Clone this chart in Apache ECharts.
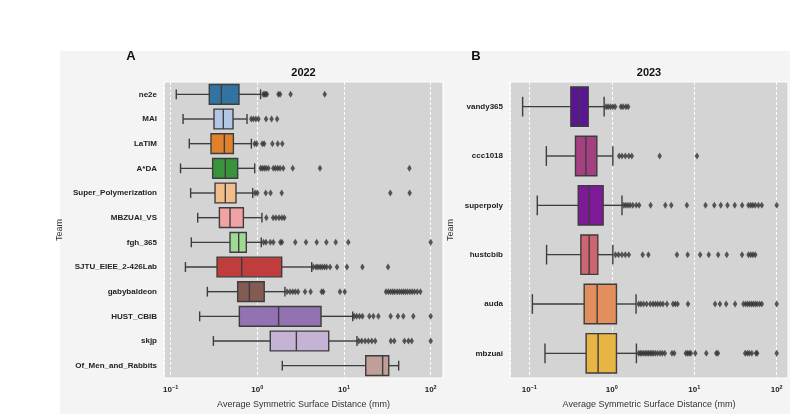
<!DOCTYPE html>
<html>
<head>
<meta charset="utf-8">
<script src="https://cdn.jsdelivr.net/npm/echarts@6/dist/echarts.min.js"></script>
<style>
  html, body { margin: 0; padding: 0; background: #fff; }
  #chart { width: 795px; height: 414px; }
</style>
</head>
<body>
<div id="chart"></div>
<script>
// 2022 teams: [min, q1, median, q3, max] of the whiskers/box
const teams2022 = ['ne2e', 'MAI', 'LaTIM', 'A*DA', 'Super_Polymerization', 'MBZUAI_VS',
  'fgh_365', 'SJTU_EIEE_2-426Lab', 'gabybaldeon', 'HUST_CBIB', 'skjp', 'Of_Men_and_Rabbits'];
const box2022 = [
  [0.116, 0.279, 0.384, 0.614, 1.09],
  [0.139, 0.316, 0.405, 0.524, 0.76],
  [0.164, 0.292, 0.416, 0.529, 0.853],
  [0.130, 0.305, 0.427, 0.593, 0.932],
  [0.170, 0.325, 0.427, 0.567, 0.884],
  [0.205, 0.365, 0.484, 0.690, 1.13],
  [0.173, 0.484, 0.609, 0.746, 1.11],
  [0.148, 0.343, 0.660, 1.91, 4.24],
  [0.265, 0.593, 0.809, 1.20, 2.08],
  [0.216, 0.620, 1.76, 5.43, 12.6],
  [0.311, 1.41, 2.82, 6.66, 14.1],
  [1.94, 17.8, 27.9, 32.8, 42.7]
];
const fliers2022 = [
  [1.17, 1.21, 1.25, 1.29, 1.75, 1.83, 2.42, 5.99],
  [0.85, 0.90, 0.96, 1.03, 1.26, 1.46, 1.69],
  [0.93, 0.98, 1.14, 1.2, 1.49, 1.72, 1.94],
  [1.09, 1.14, 1.2, 1.26, 1.34, 1.53, 1.62, 1.72, 1.83, 1.99, 2.56, 5.28, 56.8],
  [0.94, 1.0, 1.25, 1.42, 1.91, 34.2, 57.2],
  [1.27, 1.52, 1.64, 1.78, 1.92, 2.05],
  [1.18, 1.26, 1.41, 1.53, 1.84, 1.92, 2.74, 3.64, 4.84, 6.26, 8.02, 11.2, 100],
  [4.43, 4.75, 5.0, 5.3, 5.6, 5.95, 6.3, 6.9, 8.3, 10.8, 16.3, 32.2],
  [2.2, 2.38, 2.56, 2.74, 2.95, 3.55, 4.12, 5.52, 5.77, 8.98, 10.2, 30.5, 32.5, 34.5, 36.5,
    38.5, 41, 43.5, 46, 48.5, 51, 54, 57.5, 61, 65, 70, 76],
  [13.1, 14.0, 15.1, 16.3, 19.6, 21.8, 24.9, 34.5, 41.9, 48.3, 63.0, 100],
  [14.8, 16.0, 17.5, 19.1, 20.9, 22.9, 34.7, 38.0, 49.8, 55.3, 60.4, 100],
  []
];
const colors2022 = ['#3274a1', '#b3c7e5', '#e1812c', '#3a923a', '#f0bd8b', '#f0a3a2',
  '#a0d993', '#c03d3e', '#845b53', '#9372b2', '#c5b3d6', '#bf9f97'];

// 2023 teams
const teams2023 = ['vandy365', 'ccc1018', 'superpoly', 'hustcbib', 'auda', 'mbzuai'];
const box2023 = [
  [0.083, 0.319, 0.406, 0.518, 0.808],
  [0.161, 0.363, 0.485, 0.659, 1.03],
  [0.125, 0.392, 0.532, 0.786, 1.33],
  [0.162, 0.422, 0.532, 0.677, 1.03],
  [0.109, 0.463, 0.665, 1.14, 1.97],
  [0.155, 0.489, 0.683, 1.14, 1.99]
];
const fliers2023 = [
  [0.854, 0.903, 0.963, 1.03, 1.10, 1.29, 1.37, 1.48, 1.58],
  [1.23, 1.33, 1.46, 1.61, 1.75, 3.81, 10.8],
  [1.40, 1.48, 1.57, 1.67, 1.80, 1.98, 2.15, 2.96, 4.46, 5.27, 8.14, 13.7, 17.5, 21.0, 25.3,
    31.0, 38.1, 45.4, 48.5, 51.3, 54.9, 60.0, 65.9, 100],
  [1.11, 1.21, 1.33, 1.46, 1.61, 2.37, 2.78, 6.17, 8.32, 11.8, 15.0, 19.5, 24.8, 38.0,
    45.5, 48.5, 51.5, 55],
  [2.12, 2.26, 2.43, 2.65, 2.93, 3.16, 3.38, 3.61, 3.88, 4.17, 4.67, 5.53, 5.90, 6.29, 8.40,
    17.9, 20.5, 24.4, 31.3, 39.5, 42, 44.5, 47, 49.5, 52, 55, 58, 62, 66, 100],
  [2.12, 2.22, 2.32, 2.43, 2.55, 2.67, 2.8, 2.93, 3.07, 3.2, 3.38, 3.6, 3.85, 4.1, 4.4,
    5.37, 5.73, 7.9, 8.3, 8.7, 9.1, 10.3, 14.0, 18.5, 19.4, 41.4, 44, 46.5, 49.9, 56, 58, 100]
];
const colors2023 = ['#5a1495', '#a43f81', '#7d1a97', '#cf6571', '#e28e5d', '#e6b545'];

const edge = '#3d3d3d';
const font = 'Liberation Sans, Arial, sans-serif';

const boxRenderer = (colors) => (params, api) => {
    const cat = api.value(0);
    const lo = api.coord([api.value(1), cat]);
    const q1 = api.coord([api.value(2), cat]);
    const md = api.coord([api.value(3), cat]);
    const q3 = api.coord([api.value(4), cat]);
    const hi = api.coord([api.value(5), cat]);
    const band = api.size([1, 1], [1, cat])[1];
    const h = band * 0.4;   // half box height
    const c = h / 2;        // half cap length
    const y = lo[1];
    const ls = { stroke: edge, lineWidth: 1.4 };
    return {
        type: 'group',
        children: [
            { type: 'line', shape: { x1: lo[0], y1: y, x2: q1[0], y2: y }, style: ls },
            { type: 'line', shape: { x1: q3[0], y1: y, x2: hi[0], y2: y }, style: ls },
            { type: 'line', shape: { x1: lo[0], y1: y - c, x2: lo[0], y2: y + c }, style: ls },
            { type: 'line', shape: { x1: hi[0], y1: y - c, x2: hi[0], y2: y + c }, style: ls },
            { type: 'rect', shape: { x: q1[0], y: y - h, width: q3[0] - q1[0], height: 2 * h },
              style: { fill: colors[params.dataIndex], stroke: edge, lineWidth: 1.4 } },
            { type: 'line', shape: { x1: md[0], y1: y - h, x2: md[0], y2: y + h }, style: ls }
        ]
    };
};

const boxData = (stats) => stats.map((s, i) => [i].concat(s));
const flierData = (fl) => {
    const out = [];
    fl.forEach((arr, i) => arr.forEach(v => out.push([v, i])));
    return out;
};

const supFmt = (v) => {
    const e = Math.round(Math.log10(v));
    return '{b|10}{s|' + (e < 0 ? '\u2212' + (-e) : e) + '}';
};

const xAxisOf = (gridIndex, min, max) => ({
    type: 'log',
    logBase: 10,
    gridIndex: gridIndex,
    min: min,
    max: max,
    name: 'Average Symmetric Surface Distance (mm)',
    nameLocation: 'middle',
    nameGap: 22,
    nameTextStyle: { fontSize: 9, color: '#333', fontFamily: font },
    axisLine: { show: false },
    axisTick: { show: false },
    minorTick: { show: false },
    axisLabel: {
        showMinLabel: false,
        showMaxLabel: false,
        margin: 6,
        formatter: supFmt,
        rich: {
            b: { fontSize: 8, fontWeight: 'bold', color: '#222', fontFamily: font },
            s: { fontSize: 5.5, fontWeight: 'bold', color: '#222', fontFamily: font, padding: [0, 0, 5, 0] }
        }
    },
    splitLine: { show: true, lineStyle: { color: '#fff', type: [3, 2], width: 1 } }
});

const yAxisOf = (gridIndex, cats, gap) => ({
    type: 'category',
    gridIndex: gridIndex,
    data: cats,
    inverse: true,
    name: 'Team',
    nameLocation: 'middle',
    nameRotate: 90,
    nameGap: gap,
    nameTextStyle: { fontSize: 9, color: '#333', fontFamily: font },
    axisLine: { show: false },
    axisTick: { show: false },
    axisLabel: { fontSize: 8, fontWeight: 'bold', color: '#222', margin: 7, fontFamily: font },
    splitLine: { show: false }
});

const chart = echarts.init(document.getElementById('chart'));
const option = {
    animation: false,
    backgroundColor: '#fff',
    graphic: [{
        type: 'rect', left: 60, top: 51, z: -10,
        shape: { width: 730, height: 363 },
        style: { fill: '#f4f4f4' }
    }],
    title: [
        { text: 'A', left: 131, top: 50, textAlign: 'center', padding: 0,
          textStyle: { fontSize: 13, fontWeight: 'bold', color: '#111', fontFamily: font } },
        { text: 'B', left: 476, top: 50, textAlign: 'center', padding: 0,
          textStyle: { fontSize: 13, fontWeight: 'bold', color: '#111', fontFamily: font } },
        { text: '2022', left: 303.5, top: 67, textAlign: 'center', padding: 0,
          textStyle: { fontSize: 11, fontWeight: 'bold', color: '#111', fontFamily: font } },
        { text: '2023', left: 649, top: 67, textAlign: 'center', padding: 0,
          textStyle: { fontSize: 11, fontWeight: 'bold', color: '#111', fontFamily: font } }
    ],
    grid: [
        { left: 164, top: 82, width: 279, height: 298, show: true,
          backgroundColor: '#d4d4d4', borderColor: '#fff', borderWidth: 1 },
        { left: 510, top: 82, width: 278, height: 298, show: true,
          backgroundColor: '#d4d4d4', borderColor: '#fff', borderWidth: 1 }
    ],
    xAxis: [
        xAxisOf(0, Math.pow(10, -1.077), Math.pow(10, 2.142)),
        xAxisOf(1, Math.pow(10, -1.234), Math.pow(10, 2.137))
    ],
    yAxis: [
        yAxisOf(0, teams2022, 100),
        yAxisOf(1, teams2023, 55)
    ],
    series: [
        {
            type: 'custom', xAxisIndex: 0, yAxisIndex: 0,
            renderItem: boxRenderer(colors2022),
            encode: { x: [1, 2, 3, 4, 5], y: 0 },
            data: boxData(box2022)
        },
        {
            type: 'custom', xAxisIndex: 1, yAxisIndex: 1,
            renderItem: boxRenderer(colors2023),
            encode: { x: [1, 2, 3, 4, 5], y: 0 },
            data: boxData(box2023)
        },
        {
            type: 'scatter', xAxisIndex: 0, yAxisIndex: 0,
            symbol: 'diamond', symbolSize: [4.5, 7],
            itemStyle: { color: '#333' },
            data: flierData(fliers2022)
        },
        {
            type: 'scatter', xAxisIndex: 1, yAxisIndex: 1,
            symbol: 'diamond', symbolSize: [4.5, 7],
            itemStyle: { color: '#333' },
            data: flierData(fliers2023)
        }
    ]
};
chart.setOption(option);
</script>
</body>
</html>
